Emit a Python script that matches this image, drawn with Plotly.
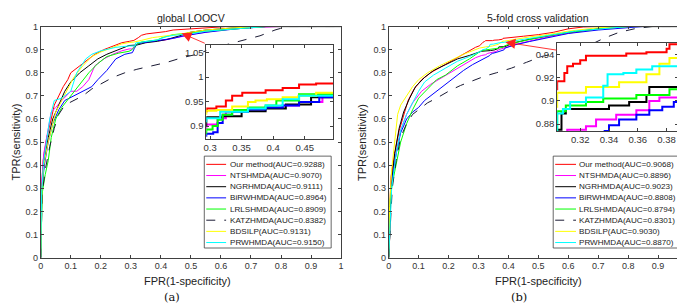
import plotly.graph_objects as go

W, H = 685, 304

# ---------------- data ----------------
series_names = ["Our method", "NTSHMDA", "NGRHMDA", "BiRWHMDA", "LRLSHMDA", "KATZHMDA", "BDSILP", "PRWHMDA"]
auc_a = ["0.9288", "0.9070", "0.9111", "0.8964", "0.8909", "0.8382", "0.9131", "0.9150"]
auc_b = ["0.9068", "0.8896", "0.9023", "0.8808", "0.8794", "0.8301", "0.9030", "0.8870"]
series_colors = ["#ff0000", "#ff00ff", "#000000", "#0000ff", "#00ff00", "#1a1a33", "#ffff00", "#00ffff"]
series_dash = ["solid", "solid", "solid", "solid", "solid", "dash", "solid", "solid"]

# panel (a) global LOOCV
a_ours_fpr = [0, 0.003, 0.008, 0.02, 0.035, 0.045, 0.06, 0.075, 0.09, 0.10, 0.13, 0.155, 0.18, 0.21, 0.24, 0.27, 0.295, 0.31, 0.325, 0.335, 0.351, 0.388, 0.415, 0.441, 0.468, 0.497, 0.55, 0.62, 1]
a_ours_tpr = [0, 0.30, 0.42, 0.52, 0.60, 0.66, 0.70, 0.74, 0.77, 0.80, 0.83, 0.855, 0.88, 0.90, 0.915, 0.93, 0.936, 0.940, 0.952, 0.962, 0.968, 0.973, 0.978, 0.985, 0.987, 0.990, 0.995, 1.0, 1]
a_nts_fpr = [0, 0.003, 0.01, 0.025, 0.035, 0.05, 0.07, 0.10, 0.12, 0.14, 0.16, 0.18, 0.21, 0.24, 0.27, 0.294, 0.305, 0.312, 0.325, 0.36, 0.388, 0.415, 0.441, 0.478, 0.52, 0.60, 0.70, 0.80, 1]
a_nts_tpr = [0, 0.32, 0.45, 0.55, 0.63, 0.65, 0.68, 0.72, 0.72, 0.74, 0.77, 0.83, 0.86, 0.88, 0.895, 0.903, 0.903, 0.916, 0.929, 0.936, 0.938, 0.942, 0.949, 0.960, 0.970, 0.985, 0.995, 1.0, 1]
a_ngr_fpr = [0, 0.004, 0.012, 0.025, 0.04, 0.06, 0.08, 0.10, 0.13, 0.16, 0.19, 0.22, 0.26, 0.294, 0.32, 0.35, 0.388, 0.42, 0.46, 0.497, 0.55, 0.65, 0.75, 1]
a_ngr_tpr = [0, 0.30, 0.42, 0.52, 0.60, 0.66, 0.72, 0.76, 0.80, 0.83, 0.86, 0.88, 0.90, 0.918, 0.920, 0.930, 0.936, 0.944, 0.959, 0.975, 0.985, 0.995, 1.0, 1]
a_birw_fpr = [0, 0.004, 0.012, 0.025, 0.04, 0.06, 0.08, 0.11, 0.14, 0.17, 0.19, 0.22, 0.25, 0.28, 0.294, 0.305, 0.312, 0.32, 0.335, 0.36, 0.388, 0.415, 0.441, 0.473, 0.497, 0.55, 0.65, 0.75, 1]
a_birw_tpr = [0, 0.30, 0.40, 0.50, 0.58, 0.64, 0.68, 0.70, 0.72, 0.74, 0.77, 0.81, 0.86, 0.88, 0.884, 0.887, 0.906, 0.923, 0.929, 0.934, 0.938, 0.942, 0.949, 0.959, 0.965, 0.975, 0.990, 1.0, 1]
a_lrls_fpr = [0, 0.005, 0.015, 0.025, 0.035, 0.05, 0.07, 0.10, 0.13, 0.16, 0.19, 0.22, 0.26, 0.294, 0.304, 0.312, 0.32, 0.335, 0.36, 0.388, 0.405, 0.441, 0.497, 0.55, 0.65, 0.75, 1]
a_lrls_tpr = [0, 0.28, 0.36, 0.42, 0.52, 0.60, 0.65, 0.70, 0.75, 0.80, 0.84, 0.87, 0.885, 0.893, 0.900, 0.913, 0.923, 0.933, 0.938, 0.942, 0.952, 0.965, 0.972, 0.980, 0.990, 1.0, 1]
a_katz_fpr = [0, 0.005, 0.015, 0.03, 0.045, 0.06, 0.08, 0.11, 0.14, 0.17, 0.20, 0.24, 0.28, 0.32, 0.37, 0.42, 0.47, 0.52, 0.57, 0.63, 0.68, 0.73, 0.78, 0.82, 1]
a_katz_tpr = [0, 0.28, 0.38, 0.48, 0.56, 0.62, 0.66, 0.68, 0.70, 0.73, 0.75, 0.78, 0.80, 0.815, 0.83, 0.845, 0.865, 0.88, 0.905, 0.925, 0.94, 0.96, 0.985, 1.0, 1]
a_bdsilp_fpr = [0, 0.004, 0.01, 0.025, 0.04, 0.05, 0.07, 0.09, 0.11, 0.14, 0.17, 0.20, 0.24, 0.27, 0.294, 0.31, 0.335, 0.36, 0.372, 0.39, 0.415, 0.44, 0.468, 0.497, 0.55, 0.65, 0.75, 1]
a_bdsilp_tpr = [0, 0.30, 0.40, 0.50, 0.58, 0.63, 0.68, 0.73, 0.78, 0.83, 0.87, 0.89, 0.91, 0.925, 0.931, 0.933, 0.940, 0.949, 0.952, 0.955, 0.959, 0.962, 0.968, 0.975, 0.985, 0.995, 1.0, 1]
a_prw_fpr = [0, 0.003, 0.01, 0.02, 0.03, 0.045, 0.07, 0.10, 0.12, 0.15, 0.17, 0.20, 0.25, 0.294, 0.314, 0.316, 0.36, 0.388, 0.415, 0.441, 0.497, 0.55, 0.65, 0.75, 1]
a_prw_tpr = [0, 0.28, 0.42, 0.52, 0.60, 0.68, 0.69, 0.72, 0.80, 0.86, 0.88, 0.895, 0.91, 0.916, 0.916, 0.929, 0.936, 0.942, 0.955, 0.962, 0.968, 0.980, 0.990, 1.0, 1]

# panel (b) 5-fold cross validation
b_ours_fpr = [0, 0.003, 0.008, 0.02, 0.035, 0.05, 0.065, 0.085, 0.11, 0.14, 0.18, 0.22, 0.26, 0.29, 0.304, 0.309, 0.311, 0.315, 0.32, 0.324, 0.347, 0.352, 0.366, 0.38, 0.382, 0.40, 0.45, 0.50, 0.55, 0.60, 0.65, 0.70, 1]
b_ours_tpr = [0, 0.20, 0.35, 0.45, 0.55, 0.62, 0.68, 0.73, 0.77, 0.80, 0.83, 0.86, 0.89, 0.91, 0.917, 0.924, 0.930, 0.932, 0.935, 0.939, 0.939, 0.941, 0.942, 0.945, 0.949, 0.952, 0.958, 0.965, 0.975, 0.990, 0.998, 1.0, 1]
b_nts_fpr = [0, 0.004, 0.01, 0.025, 0.04, 0.06, 0.08, 0.11, 0.14, 0.18, 0.22, 0.26, 0.29, 0.311, 0.324, 0.331, 0.345, 0.359, 0.368, 0.375, 0.388, 0.43, 0.48, 0.55, 0.62, 0.70, 0.80, 1]
b_nts_tpr = [0, 0.20, 0.32, 0.45, 0.55, 0.62, 0.67, 0.72, 0.75, 0.78, 0.81, 0.84, 0.865, 0.875, 0.878, 0.884, 0.888, 0.892, 0.900, 0.903, 0.909, 0.925, 0.940, 0.960, 0.975, 0.990, 1.0, 1]
b_ngr_fpr = [0, 0.004, 0.008, 0.02, 0.035, 0.05, 0.07, 0.09, 0.12, 0.15, 0.19, 0.23, 0.27, 0.307, 0.31, 0.34, 0.354, 0.366, 0.368, 0.388, 0.42, 0.47, 0.53, 0.60, 0.70, 0.80, 1]
b_ngr_tpr = [0, 0.10, 0.30, 0.45, 0.56, 0.63, 0.69, 0.74, 0.78, 0.81, 0.835, 0.86, 0.875, 0.889, 0.893, 0.896, 0.899, 0.905, 0.912, 0.913, 0.930, 0.945, 0.960, 0.975, 0.990, 1.0, 1]
b_birw_fpr = [0, 0.004, 0.01, 0.025, 0.04, 0.06, 0.08, 0.10, 0.12, 0.14, 0.16, 0.19, 0.22, 0.25, 0.28, 0.31, 0.337, 0.34, 0.347, 0.359, 0.368, 0.377, 0.385, 0.389, 0.42, 0.47, 0.53, 0.60, 0.70, 0.80, 0.85, 1]
b_birw_tpr = [0, 0.20, 0.32, 0.45, 0.54, 0.60, 0.63, 0.65, 0.68, 0.70, 0.72, 0.75, 0.78, 0.81, 0.835, 0.855, 0.874, 0.879, 0.884, 0.888, 0.892, 0.895, 0.899, 0.907, 0.920, 0.935, 0.950, 0.970, 0.985, 0.995, 1.0, 1]
b_lrls_fpr = [0, 0.005, 0.012, 0.025, 0.04, 0.06, 0.08, 0.10, 0.13, 0.16, 0.19, 0.23, 0.27, 0.304, 0.31, 0.324, 0.336, 0.359, 0.382, 0.388, 0.42, 0.47, 0.53, 0.60, 0.70, 0.80, 1]
b_lrls_tpr = [0, 0.25, 0.32, 0.40, 0.50, 0.58, 0.64, 0.69, 0.73, 0.77, 0.79, 0.83, 0.86, 0.891, 0.896, 0.899, 0.902, 0.905, 0.910, 0.917, 0.930, 0.945, 0.960, 0.975, 0.990, 1.0, 1]
b_katz_fpr = [0, 0.005, 0.012, 0.025, 0.04, 0.06, 0.08, 0.10, 0.13, 0.16, 0.20, 0.24, 0.28, 0.32, 0.36, 0.41, 0.46, 0.51, 0.56, 0.62, 0.68, 0.72, 0.77, 0.82, 0.88, 1]
b_katz_tpr = [0, 0.15, 0.30, 0.42, 0.52, 0.58, 0.62, 0.64, 0.67, 0.69, 0.72, 0.745, 0.765, 0.785, 0.80, 0.82, 0.845, 0.87, 0.885, 0.90, 0.925, 0.95, 0.975, 0.99, 1.0, 1]
b_bdsilp_fpr = [0, 0.003, 0.01, 0.02, 0.03, 0.04, 0.06, 0.08, 0.10, 0.13, 0.17, 0.21, 0.25, 0.28, 0.304, 0.324, 0.347, 0.366, 0.375, 0.382, 0.388, 0.42, 0.47, 0.53, 0.60, 0.70, 0.80, 1]
b_bdsilp_tpr = [0, 0.22, 0.38, 0.50, 0.62, 0.66, 0.70, 0.74, 0.77, 0.80, 0.83, 0.855, 0.88, 0.895, 0.907, 0.912, 0.916, 0.923, 0.932, 0.937, 0.937, 0.945, 0.955, 0.965, 0.980, 0.995, 1.0, 1]
b_prw_fpr = [0, 0.004, 0.01, 0.025, 0.04, 0.06, 0.08, 0.10, 0.12, 0.15, 0.19, 0.23, 0.27, 0.304, 0.308, 0.313, 0.324, 0.336, 0.339, 0.35, 0.359, 0.37, 0.388, 0.43, 0.48, 0.55, 0.62, 0.70, 0.80, 1]
b_prw_tpr = [0, 0.15, 0.30, 0.45, 0.55, 0.62, 0.67, 0.72, 0.76, 0.79, 0.82, 0.85, 0.87, 0.889, 0.893, 0.899, 0.903, 0.913, 0.923, 0.924, 0.927, 0.930, 0.932, 0.940, 0.950, 0.965, 0.980, 0.990, 1.0, 1]

panel_a = [(a_ours_fpr, a_ours_tpr), (a_nts_fpr, a_nts_tpr), (a_ngr_fpr, a_ngr_tpr), (a_birw_fpr, a_birw_tpr),
           (a_lrls_fpr, a_lrls_tpr), (a_katz_fpr, a_katz_tpr), (a_bdsilp_fpr, a_bdsilp_tpr), (a_prw_fpr, a_prw_tpr)]
panel_b = [(b_ours_fpr, b_ours_tpr), (b_nts_fpr, b_nts_tpr), (b_ngr_fpr, b_ngr_tpr), (b_birw_fpr, b_birw_tpr),
           (b_lrls_fpr, b_lrls_tpr), (b_katz_fpr, b_katz_tpr), (b_bdsilp_fpr, b_bdsilp_tpr), (b_prw_fpr, b_prw_tpr)]

main_ticks = [0, 0.1, 0.2, 0.3, 0.4, 0.5, 0.6, 0.7, 0.8, 0.9, 1]
main_ticktext = ["0", "0.1", "0.2", "0.3", "0.4", "0.5", "0.6", "0.7", "0.8", "0.9", "1"]
inset_a_xticks = [0.3, 0.35, 0.4, 0.45]
inset_a_xtext = ["0.3", "0.35", "0.4", "0.45"]
inset_a_yticks = [0.9, 0.95, 1.0, 1.05]
inset_a_ytext = ["0.9", "0.95", "1", "1.05"]
inset_b_xticks = [0.32, 0.34, 0.36, 0.38]
inset_b_xtext = ["0.32", "0.34", "0.36", "0.38"]
inset_b_yticks = [0.88, 0.90, 0.92, 0.94]
inset_b_ytext = ["0.88", "0.9", "0.92", "0.94"]

# ---------------- figure ----------------
FONT = "Liberation Sans, Arial, Helvetica, sans-serif"
AX = "#404040"
TXT = "#333333"

def px(x):
    return x / W

def py(y):
    return 1 - y / H

fig = go.Figure()

def add_panel(data, xa, ya, xi, yi):
    for (f, t), c, d in zip(data, series_colors, series_dash):
        fig.add_trace(go.Scatter(x=f, y=t, mode="lines", xaxis=xa, yaxis=ya,
                                 line=dict(color=c, width=1, dash=d), showlegend=False, hoverinfo="skip"))
    for (f, t), c, d in zip(data, series_colors, series_dash):
        fig.add_trace(go.Scatter(x=f, y=t, mode="lines", xaxis=xi, yaxis=yi,
                                 line=dict(color=c, width=2, dash=d, shape="hv"), showlegend=False, hoverinfo="skip"))

add_panel(panel_a, "x", "y", "x3", "y3")
add_panel(panel_b, "x2", "y2", "x4", "y4")

def axis(domain, rng, tv, tt, anchor, fs=9):
    return dict(domain=domain, range=rng, tickvals=tv, ticktext=tt, anchor=anchor,
                ticks="inside", ticklen=3, tickwidth=0.8, tickcolor=AX, mirror="allticks",
                showline=True, linecolor=AX, linewidth=0.8, showgrid=False, zeroline=False,
                tickfont=dict(family=FONT, size=fs, color=TXT))

main_y_dom = [py(253), py(14)]
fig.update_layout(
    xaxis=axis([px(30), px(333)], [0, 1], main_ticks, main_ticktext, "y"),
    yaxis=axis(main_y_dom, [0, 1], main_ticks, main_ticktext, "x"),
    xaxis2=axis([px(381), px(683)], [0, 1], main_ticks, main_ticktext, "y2"),
    yaxis2=axis(main_y_dom, [0, 1], main_ticks, main_ticktext, "x2"),
    xaxis3=axis([px(197), px(325)], [0.294, 0.495], inset_a_xticks, inset_a_xtext, "y3", 9.5),
    yaxis3=axis([py(130), py(33)], [0.874, 1.066], inset_a_yticks, inset_a_ytext, "x3", 9.5),
    xaxis4=axis([px(551), px(673)], [0.304, 0.388], inset_b_xticks, inset_b_xtext, "y4", 9.5),
    yaxis4=axis([py(122), py(31)], [0.874, 0.950], inset_b_yticks, inset_b_ytext, "x4", 9.5),
)

shapes = []
annotations = []

def add_legend(x0, x1, line_x0, line_x1, text_x, aucs):
    shapes.append(dict(type="rect", xref="paper", yref="paper", x0=px(x0), x1=px(x1), y0=py(243), y1=py(148),
                       line=dict(color=AX, width=0.8), fillcolor="white", layer="above"))
    for i, (name, auc, c, d) in enumerate(zip(series_names, aucs, series_colors, series_dash)):
        yy = 156.5 + i * 11.55
        shapes.append(dict(type="line", xref="paper", yref="paper", x0=px(line_x0), x1=px(line_x1),
                           y0=py(yy), y1=py(yy), line=dict(color=c, width=1, dash=d), layer="above"))
        annotations.append(dict(xref="paper", yref="paper", x=px(text_x), y=py(yy), xanchor="left", yanchor="middle",
                                text=f"{name}(AUC={auc})", showarrow=False,
                                font=dict(family=FONT, size=8.1, color="#222")))

add_legend(195, 323, 197, 217, 219, auc_a)
add_legend(547, 673, 549, 570, 571, auc_b)

# titles, axis labels, panel labels
for cx, title in [(181.5, "global LOOCV"), (532, "5-fold cross validation")]:
    annotations.append(dict(xref="paper", yref="paper", x=px(cx), y=py(5.5), xanchor="center", yanchor="middle",
                            text=title, showarrow=False, font=dict(family=FONT, size=10.5, color="#222")))
for cx in [178, 532]:
    annotations.append(dict(xref="paper", yref="paper", x=px(cx), y=py(277.5), xanchor="center", yanchor="middle",
                            text="FPR(1-specificity)", showarrow=False, font=dict(family=FONT, size=11, color="#222")))
for cx in [5.5, 354]:
    annotations.append(dict(xref="paper", yref="paper", x=px(cx), y=py(133.5), xanchor="center", yanchor="middle",
                            text="TPR(sensitivity)", textangle=-90, showarrow=False,
                            font=dict(family=FONT, size=11, color="#222")))
for cx, lab in [(162, "(a)"), (512, "(b)")]:
    annotations.append(dict(xref="paper", yref="paper", x=px(cx), y=py(294), xanchor="center", yanchor="middle",
                            text=lab, showarrow=False, font=dict(family="DejaVu Serif, Liberation Serif, serif", size=11.5, color="#111")))

# zoom arrows
annotations.append(dict(xref="x", yref="y", x=0.469, y=0.971, axref="x", ayref="y", ax=0.551, ay=0.925,
                        text="", showarrow=True, arrowcolor="#ff2020", arrowwidth=0.9, arrowhead=2, arrowsize=2.2))
annotations.append(dict(xref="x2", yref="y2", x=0.39, y=0.932, axref="x2", ayref="y2", ax=0.566, ay=0.897,
                        text="", showarrow=True, arrowcolor="#ff2020", arrowwidth=0.9, arrowhead=2, arrowsize=2.2))

fig.update_layout(width=W, height=H, autosize=False, margin=dict(l=0, r=0, t=0, b=0),
                  paper_bgcolor="white", plot_bgcolor="white", shapes=shapes, annotations=annotations,
                  showlegend=False)

fig.write_html("out.html")
